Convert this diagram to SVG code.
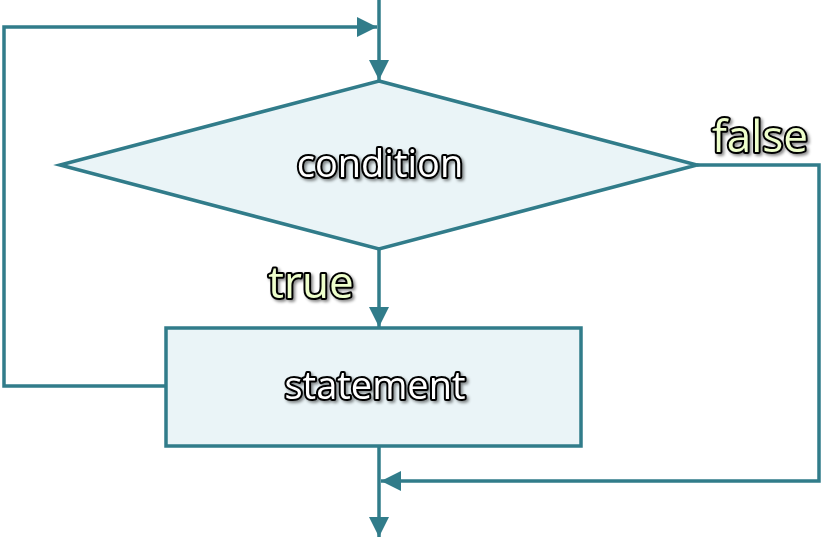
<svg xmlns="http://www.w3.org/2000/svg" width="832" height="559" viewBox="0 0 832 559">
<defs>
<marker id="arr" viewBox="0 0 20 20" refX="20" refY="10" markerWidth="20" markerHeight="20" markerUnits="userSpaceOnUse" orient="auto">
<path d="M0,0 L20,10 L0,20 Z" fill="#317c8a"/>
</marker>
<filter id="sh" x="-20%" y="-40%" width="140%" height="180%">
<feDropShadow dx="2" dy="2" stdDeviation="1.5" flood-color="#000" flood-opacity="0.45"/>
</filter>
<style>
.shape{fill:#eaf4f7;stroke:#317c8a;stroke-width:3.5}
.conn{fill:none;stroke:#317c8a;stroke-width:3.5}
.t{font-family:"Open Sans","DejaVu Sans",sans-serif;font-size:38px;text-anchor:middle;stroke:#000;stroke-width:4;stroke-linejoin:round;paint-order:stroke;filter:url(#sh)}
.n{fill:#ffffff}
.l{fill:#eeffcc;font-size:44px}
</style>
</defs>
<rect width="832" height="559" fill="#ffffff"/>
<g id="connectors">
<path class="conn" d="M379,0 V80" marker-end="url(#arr)"/>
<path class="conn" d="M379,249 V327" marker-end="url(#arr)"/>
<path class="conn" d="M166,386 H4 V27 H377" marker-end="url(#arr)"/>
<path class="conn" d="M697,165 H819 V481 H381" marker-end="url(#arr)"/>
<path class="conn" d="M379,446 V537" marker-end="url(#arr)"/>
</g>
<g id="condition">
<polygon class="shape" points="379,81 697,165 379,249 60,165"/>
<text class="t n" x="380" y="177">condition</text>
</g>
<g id="statement">
<rect class="shape" x="166" y="328" width="415" height="118"/>
<text class="t n" x="375" y="399">statement</text>
</g>
<g id="label-true">
<text class="t l" x="311" y="298">true</text>
</g>
<g id="label-false">
<text class="t l" x="760" y="152">false</text>
</g>
</svg>
